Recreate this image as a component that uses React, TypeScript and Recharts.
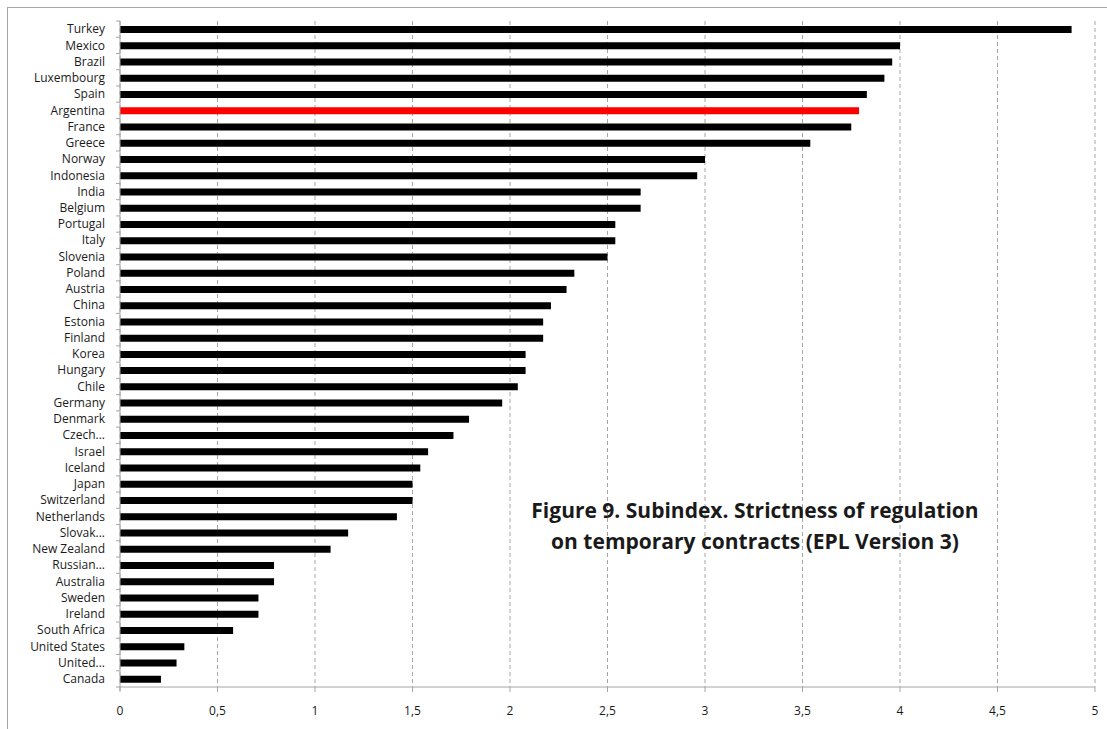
import React from "react";
import { BarChart, Bar, XAxis, YAxis, CartesianGrid, Cell } from "recharts";

const countries = [
  "Turkey", "Mexico", "Brazil", "Luxembourg", "Spain", "Argentina", "France", "Greece",
  "Norway", "Indonesia", "India", "Belgium", "Portugal", "Italy", "Slovenia", "Poland",
  "Austria", "China", "Estonia", "Finland", "Korea", "Hungary", "Chile", "Germany",
  "Denmark", "Czech...", "Israel", "Iceland", "Japan", "Switzerland", "Netherlands",
  "Slovak...", "New Zealand", "Russian...", "Australia", "Sweden", "Ireland",
  "South Africa", "United States", "United...", "Canada",
];

const values = [
  4.88, 4.0, 3.96, 3.92, 3.83, 3.79, 3.75, 3.54,
  3.0, 2.96, 2.67, 2.67, 2.54, 2.54, 2.5, 2.33,
  2.29, 2.21, 2.17, 2.17, 2.08, 2.08, 2.04, 1.96,
  1.79, 1.71, 1.58, 1.54, 1.5, 1.5, 1.42,
  1.17, 1.08, 0.79, 0.79, 0.71, 0.71,
  0.58, 0.33, 0.29, 0.21,
];

const highlighted = ["Argentina"];

const xTicks = [0, 0.5, 1, 1.5, 2, 2.5, 3, 3.5, 4, 4.5, 5];

const titleLines = [
  "Figure 9. Subindex. Strictness of regulation",
  "on temporary contracts (EPL Version 3)",
];

const data = countries.map((name, i) => ({ name, value: values[i] }));

const W = 1107;
const H = 729;
const M = { top: 21, right: 12, bottom: 12, left: 0 };
const X_AXIS_H = 30;
const Y_AXIS_W = 120;
const LABEL_GAP = 15;
const FONT = "'Open Sans', 'DejaVu Sans', sans-serif";
const AXIS_COLOR = "#a6a6a6";

const band = (H - M.top - M.bottom - X_AXIS_H) / countries.length;

const CategoryTick = (props: any) => {
  const { x, y, payload, index } = props;
  const axisX = x + LABEL_GAP;
  const half = band / 2;
  return (
    <g>
      <text
        x={x}
        y={y}
        dy="0.35em"
        textAnchor="end"
        fill="#1a1a1a"
        fontSize={12}
        fontFamily={FONT}
      >
        {payload.value}
      </text>
      <line x1={axisX - 4} x2={axisX} y1={y - half} y2={y - half} stroke={AXIS_COLOR} strokeWidth={1} />
      {index === countries.length - 1 ? (
        <line x1={axisX - 4} x2={axisX} y1={y + half} y2={y + half} stroke={AXIS_COLOR} strokeWidth={1} />
      ) : null}
      {index === countries.length - 1 ? (
        <line x1={axisX} x2={axisX} y1={y + half} y2={y + half + 4} stroke={AXIS_COLOR} strokeWidth={1} />
      ) : null}
    </g>
  );
};

export default function App() {
  return (
    <div style={{ position: "absolute", left: 0, top: 0, width: W, height: H, background: "#fff" }}>
      <div
        style={{
          position: "absolute",
          left: 7,
          top: 7,
          width: W,
          height: H,
          borderLeft: `1px solid ${AXIS_COLOR}`,
          borderTop: `1px solid ${AXIS_COLOR}`,
        }}
      />
      <div style={{ position: "absolute", left: 0, top: 0 }}>
        <BarChart width={W} height={H} data={data} layout="vertical" margin={M} barCategoryGap={0}>
          <CartesianGrid
            horizontal={false}
            vertical={true}
            stroke={AXIS_COLOR}
            strokeDasharray="4 3"
          />
          <XAxis
            type="number"
            domain={[0, 5]}
            ticks={xTicks}
            interval={0}
            height={X_AXIS_H}
            axisLine={{ stroke: AXIS_COLOR }}
            tickLine={{ stroke: AXIS_COLOR }}
            tickSize={5}
            tickMargin={14}
            tickFormatter={(v: number) => String(v).replace(".", ",")}
            tick={{ fill: "#1a1a1a", fontSize: 12, fontFamily: FONT }}
          />
          <YAxis
            type="category"
            dataKey="name"
            width={Y_AXIS_W}
            interval={0}
            axisLine={{ stroke: AXIS_COLOR }}
            tickLine={false}
            tickSize={0}
            tickMargin={LABEL_GAP}
            tick={<CategoryTick />}
          />
          <Bar dataKey="value" barSize={7} isAnimationActive={false}>
            {data.map((d) => (
              <Cell
                key={d.name}
                fill={highlighted.includes(d.name) ? "#ff0000" : "#000000"}
              />
            ))}
          </Bar>
        </BarChart>
      </div>
      <div
        style={{
          position: "absolute",
          left: 755 - 280,
          top: 495,
          width: 560,
          textAlign: "center",
          fontFamily: FONT,
          fontWeight: 700,
          fontSize: 21,
          lineHeight: "31px",
          color: "#1a1a1a",
          whiteSpace: "nowrap",
        }}
      >
        {titleLines.map((t) => (
          <div key={t}>{t}</div>
        ))}
      </div>
    </div>
  );
}
